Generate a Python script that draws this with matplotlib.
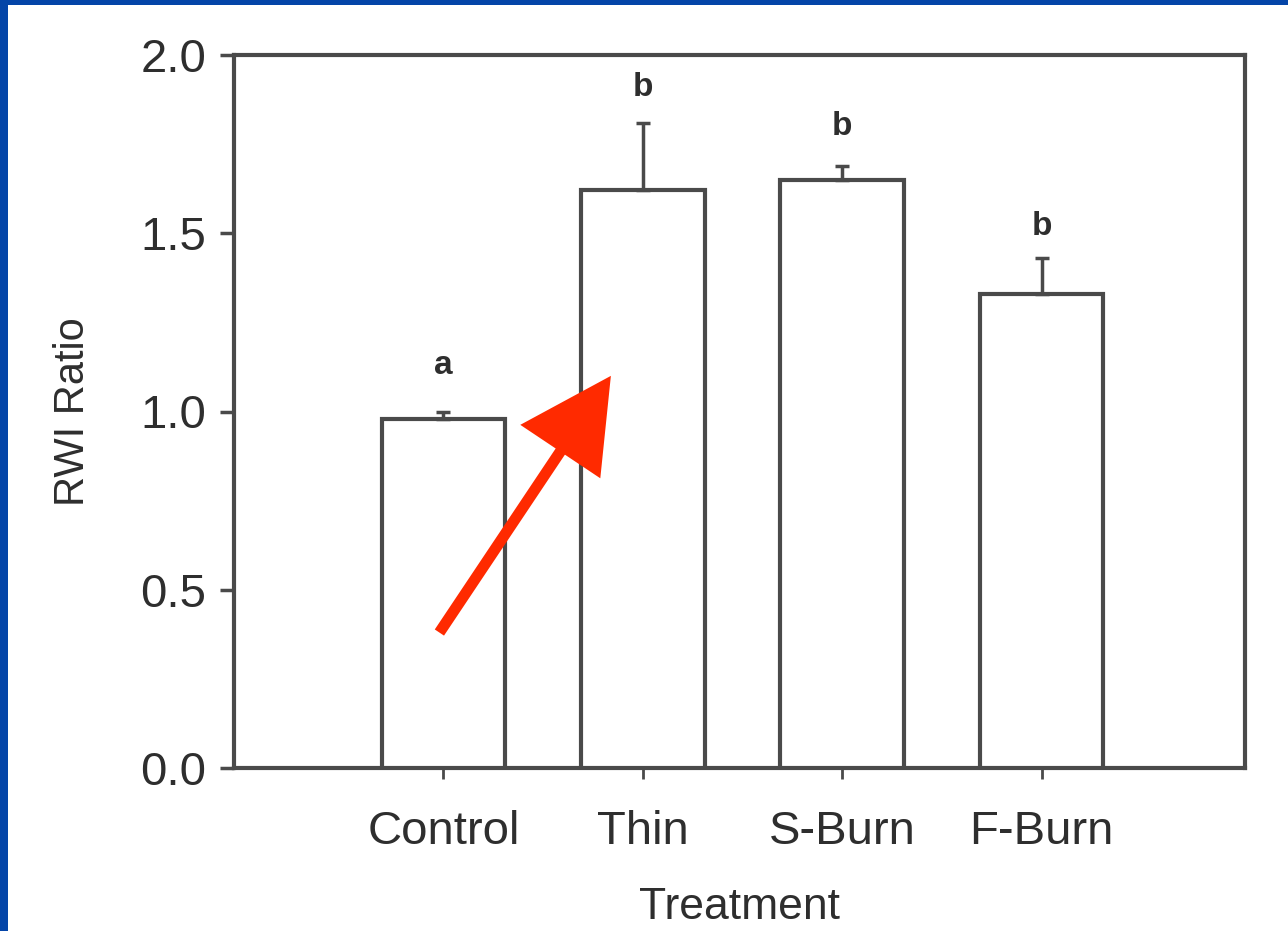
import matplotlib
matplotlib.use("Agg")
import matplotlib.pyplot as plt
from matplotlib.patches import Rectangle

# data
treatments = ["Control", "Thin", "S-Burn", "F-Burn"]
rwi_ratio = [0.98, 1.62, 1.65, 1.33]
se_upper = [0.02, 0.19, 0.04, 0.10]
letters = ["a", "b", "b", "b"]
letter_y = [1.13, 1.91, 1.80, 1.52]

# red arrow overlay (data coords)
arrow_tail = (-0.02, 0.38)
arrow_tip = (0.84, 1.10)

INK = "#4a4a4a"
TXT = "#2e2e2e"
BLUE = "#0445a8"
RED = "#ff2a00"
FONT = "Liberation Sans"

plt.rcParams["font.family"] = [FONT, "DejaVu Sans"]

fig = plt.figure(figsize=(12.88, 9.31), dpi=100)
fig.patch.set_facecolor(BLUE)
# white slide area inside the blue frame
fig.patches.append(Rectangle((8 / 1288, 0), 1, 1 - 5 / 931, transform=fig.transFigure,
                             facecolor="white", edgecolor="none", zorder=-10))

ax = fig.add_axes([234 / 1288, 163 / 931, (1245 - 234) / 1288, (768 - 55) / 931])
ax.set_facecolor("white")

x = list(range(len(treatments)))
ax.bar(x, rwi_ratio, width=0.62, color="white", edgecolor=INK, linewidth=3, zorder=3)
ax.errorbar(x, rwi_ratio, yerr=[[0] * len(se_upper), se_upper], fmt="none",
            ecolor=INK, elinewidth=2.5, capsize=5, capthick=2.5, zorder=4)

for xi, lab, ly in zip(x, letters, letter_y):
    ax.text(xi, ly, lab, ha="center", va="center", fontsize=24, color=TXT,
            fontweight="bold")

ax.set_xlim(-1.05, 4.02)
ax.set_ylim(0, 2.0)
ax.set_yticks([0.0, 0.5, 1.0, 1.5, 2.0])
ax.set_yticklabels(["0.0", "0.5", "1.0", "1.5", "2.0"])
ax.set_xticks(x)
ax.set_xticklabels(treatments)

for s in ax.spines.values():
    s.set_color(INK)
    s.set_linewidth(3)

ax.tick_params(axis="y", length=10, width=2.5, color=INK, labelsize=34,
               labelcolor=TXT, pad=10)
ax.tick_params(axis="x", length=8, width=2, color=INK, labelsize=34,
               labelcolor=TXT, pad=22)

ax.set_xlabel("Treatment", fontsize=32, color=TXT, labelpad=24)
ax.set_ylabel("RWI Ratio", fontsize=30, color=TXT, labelpad=34)

ax.annotate("", xy=arrow_tip, xytext=arrow_tail,
            arrowprops=dict(arrowstyle="-|>,head_length=5.3,head_width=2.8",
                            color=RED, lw=8, shrinkA=0, shrinkB=0,
                            joinstyle="miter", capstyle="butt"),
            zorder=6, annotation_clip=False)

fig.savefig("out.png", dpi=100, facecolor=fig.get_facecolor())
